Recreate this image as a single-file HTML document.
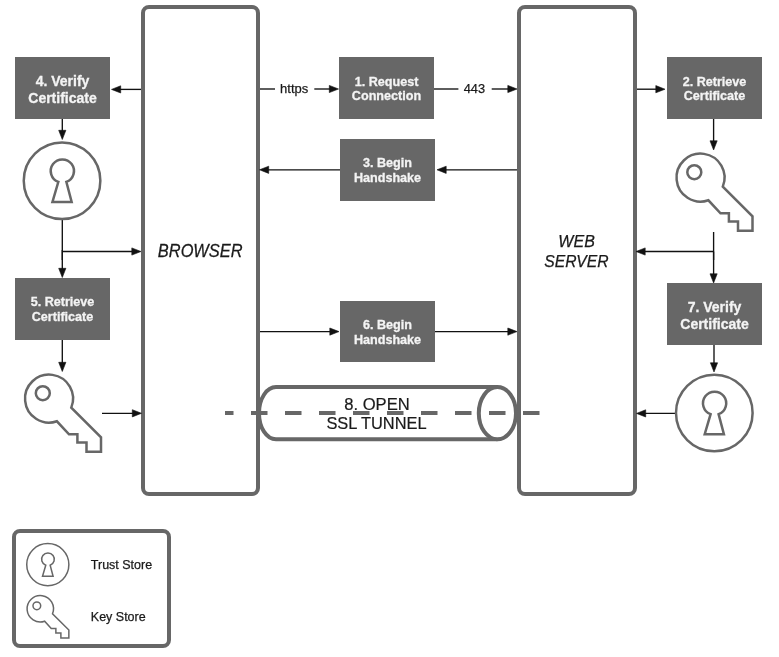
<!DOCTYPE html>
<html><head><meta charset="utf-8"><style>
html,body{margin:0;padding:0;background:#fff;}
body{width:779px;height:657px;overflow:hidden;}
svg{display:block;will-change:transform;}
text{font-family:"Liberation Sans",sans-serif;}
.bt{font-weight:bold;fill:#f4f4f4;stroke:#f4f4f4;stroke-width:0.3px;}
.rt{fill:#1a1a1a;stroke:#1a1a1a;stroke-width:0.25px;}
.tt{fill:#1a1a1a;stroke:#1a1a1a;stroke-width:0.2px;}
.it{font-style:italic;fill:#1a1a1a;stroke:#1a1a1a;stroke-width:0.25px;}
</style></head><body>
<svg width="779" height="657" viewBox="0 0 779 657">
<rect x="143.0" y="7.0" width="115" height="487" rx="6" fill="none" stroke="#676767" stroke-width="4"/>
<rect x="519.0" y="7.0" width="116" height="487" rx="6" fill="none" stroke="#676767" stroke-width="4"/>
<rect x="14.0" y="531.0" width="155" height="115" rx="6" fill="none" stroke="#676767" stroke-width="4"/>
<rect x="15" y="57" width="95" height="62" fill="#676767"/>
<text x="62.5" y="85.90" text-anchor="middle" class="bt" style="font-size:14px">4. Verify</text>
<text x="62.5" y="102.90" text-anchor="middle" class="bt" style="font-size:14px">Certificate</text>
<rect x="15" y="278" width="95" height="62" fill="#676767"/>
<text x="62.5" y="306.20" text-anchor="middle" class="bt" style="font-size:12.6px">5. Retrieve</text>
<text x="62.5" y="320.90" text-anchor="middle" class="bt" style="font-size:12.6px">Certificate</text>
<rect x="339" y="57" width="95" height="62" fill="#676767"/>
<text x="386.5" y="85.60" text-anchor="middle" class="bt" style="font-size:12.6px">1. Request</text>
<text x="386.5" y="100.20" text-anchor="middle" class="bt" style="font-size:12.6px">Connection</text>
<rect x="340" y="139" width="95" height="62" fill="#676767"/>
<text x="387.5" y="167.00" text-anchor="middle" class="bt" style="font-size:12.6px">3. Begin</text>
<text x="387.5" y="181.60" text-anchor="middle" class="bt" style="font-size:12.6px">Handshake</text>
<rect x="340" y="301" width="95" height="61" fill="#676767"/>
<text x="387.5" y="329.30" text-anchor="middle" class="bt" style="font-size:12.6px">6. Begin</text>
<text x="387.5" y="343.90" text-anchor="middle" class="bt" style="font-size:12.6px">Handshake</text>
<rect x="667" y="57" width="95" height="62" fill="#676767"/>
<text x="714.5" y="85.60" text-anchor="middle" class="bt" style="font-size:12.6px">2. Retrieve</text>
<text x="714.5" y="100.20" text-anchor="middle" class="bt" style="font-size:12.6px">Certificate</text>
<rect x="667" y="283" width="95" height="62" fill="#676767"/>
<text x="714.5" y="311.60" text-anchor="middle" class="bt" style="font-size:14px">7. Verify</text>
<text x="714.5" y="328.60" text-anchor="middle" class="bt" style="font-size:14px">Certificate</text>
<line x1="141" y1="89.4" x2="116.5" y2="89.4" stroke="#111" stroke-width="1.35"/>
<polygon points="111.50,89.40 120.70,85.80 120.70,93.00" fill="#111" stroke="#111" stroke-width="0.6" stroke-linejoin="round"/>
<line x1="62.3" y1="119" x2="62.3" y2="134.5" stroke="#111" stroke-width="1.35"/>
<polygon points="62.30,139.50 58.70,130.30 65.90,130.30" fill="#111" stroke="#111" stroke-width="0.6" stroke-linejoin="round"/>
<line x1="62.3" y1="220" x2="62.3" y2="260" stroke="#111" stroke-width="1.35"/>
<line x1="62.3" y1="250" x2="62.3" y2="272.5" stroke="#111" stroke-width="1.35"/>
<polygon points="62.30,277.50 58.70,268.30 65.90,268.30" fill="#111" stroke="#111" stroke-width="0.6" stroke-linejoin="round"/>
<line x1="62.3" y1="251.5" x2="136" y2="251.5" stroke="#111" stroke-width="1.35"/>
<polygon points="141.00,251.50 131.80,247.90 131.80,255.10" fill="#111" stroke="#111" stroke-width="0.6" stroke-linejoin="round"/>
<line x1="62.3" y1="340" x2="62.3" y2="366.5" stroke="#111" stroke-width="1.35"/>
<polygon points="62.30,371.50 58.70,362.30 65.90,362.30" fill="#111" stroke="#111" stroke-width="0.6" stroke-linejoin="round"/>
<line x1="102" y1="413.3" x2="136.5" y2="413.3" stroke="#111" stroke-width="1.35"/>
<polygon points="141.50,413.30 132.30,409.70 132.30,416.90" fill="#111" stroke="#111" stroke-width="0.6" stroke-linejoin="round"/>
<line x1="260" y1="89" x2="275" y2="89" stroke="#111" stroke-width="1.35"/>
<text x="294.2" y="92.6" text-anchor="middle" class="rt" style="font-size:13px">https</text>
<line x1="314.3" y1="89" x2="333.5" y2="89" stroke="#111" stroke-width="1.35"/>
<polygon points="338.50,89.00 329.30,85.40 329.30,92.60" fill="#111" stroke="#111" stroke-width="0.6" stroke-linejoin="round"/>
<line x1="434" y1="89" x2="458.4" y2="89" stroke="#111" stroke-width="1.35"/>
<text x="474.4" y="92.8" text-anchor="middle" class="rt" style="font-size:12.8px">443</text>
<line x1="491.7" y1="89" x2="512" y2="89" stroke="#111" stroke-width="1.35"/>
<polygon points="517.00,89.00 507.80,85.40 507.80,92.60" fill="#111" stroke="#111" stroke-width="0.6" stroke-linejoin="round"/>
<line x1="340" y1="169.8" x2="264.5" y2="169.8" stroke="#111" stroke-width="1.35"/>
<polygon points="259.50,169.80 268.70,166.20 268.70,173.40" fill="#111" stroke="#111" stroke-width="0.6" stroke-linejoin="round"/>
<line x1="517" y1="169.8" x2="442" y2="169.8" stroke="#111" stroke-width="1.35"/>
<polygon points="437.00,169.80 446.20,166.20 446.20,173.40" fill="#111" stroke="#111" stroke-width="0.6" stroke-linejoin="round"/>
<line x1="260" y1="331.6" x2="334" y2="331.6" stroke="#111" stroke-width="1.35"/>
<polygon points="339.00,331.60 329.80,328.00 329.80,335.20" fill="#111" stroke="#111" stroke-width="0.6" stroke-linejoin="round"/>
<line x1="435" y1="331.6" x2="512" y2="331.6" stroke="#111" stroke-width="1.35"/>
<polygon points="517.00,331.60 507.80,328.00 507.80,335.20" fill="#111" stroke="#111" stroke-width="0.6" stroke-linejoin="round"/>
<line x1="637" y1="89.2" x2="660" y2="89.2" stroke="#111" stroke-width="1.35"/>
<polygon points="665.00,89.20 655.80,85.60 655.80,92.80" fill="#111" stroke="#111" stroke-width="0.6" stroke-linejoin="round"/>
<line x1="713.6" y1="119" x2="713.6" y2="145" stroke="#111" stroke-width="1.35"/>
<polygon points="713.60,150.00 710.00,140.80 717.20,140.80" fill="#111" stroke="#111" stroke-width="0.6" stroke-linejoin="round"/>
<line x1="713.6" y1="232" x2="713.6" y2="260" stroke="#111" stroke-width="1.35"/>
<line x1="713.6" y1="251.5" x2="641" y2="251.5" stroke="#111" stroke-width="1.35"/>
<polygon points="636.00,251.50 645.20,247.90 645.20,255.10" fill="#111" stroke="#111" stroke-width="0.6" stroke-linejoin="round"/>
<line x1="713.6" y1="251.5" x2="713.6" y2="278" stroke="#111" stroke-width="1.35"/>
<polygon points="713.60,283.00 710.00,273.80 717.20,273.80" fill="#111" stroke="#111" stroke-width="0.6" stroke-linejoin="round"/>
<line x1="714" y1="345" x2="714" y2="367" stroke="#111" stroke-width="1.35"/>
<polygon points="714.00,372.00 710.40,362.80 717.60,362.80" fill="#111" stroke="#111" stroke-width="0.6" stroke-linejoin="round"/>
<line x1="675" y1="413.4" x2="641.5" y2="413.4" stroke="#111" stroke-width="1.35"/>
<polygon points="636.50,413.40 645.70,409.80 645.70,417.00" fill="#111" stroke="#111" stroke-width="0.6" stroke-linejoin="round"/>
<circle cx="62.05" cy="180.7" r="38.3" fill="none" stroke="#676767" stroke-width="2.5"/>
<path d="M58.35 181.89 A11.60 11.60 0 1 1 66.35 181.89 L71.65 201.90 L52.45 201.90 Z" fill="none" stroke="#676767" stroke-width="2.5" stroke-linejoin="miter"/>
<circle cx="714.3" cy="413" r="38.3" fill="none" stroke="#676767" stroke-width="2.5"/>
<path d="M710.60 414.19 A11.60 11.60 0 1 1 718.60 414.19 L723.90 434.20 L704.70 434.20 Z" fill="none" stroke="#676767" stroke-width="2.5" stroke-linejoin="miter"/>
<circle cx="47.8" cy="564.6" r="21.065" fill="none" stroke="#676767" stroke-width="1.5"/>
<path d="M45.76 565.25 A6.38 6.38 0 1 1 50.16 565.25 L53.08 576.26 L42.52 576.26 Z" fill="none" stroke="#676767" stroke-width="1.5" stroke-linejoin="miter"/>
<path d="M56.90 421.30 A24.00 24.00 0 1 1 71.30 407.60 L101.00 437.30 L101.00 451.80 L86.50 451.80 L86.50 442.60 L77.40 442.60 L77.40 434.30 L69.00 434.30 Z" fill="none" stroke="#676767" stroke-width="2.5" stroke-linejoin="miter"/>
<circle cx="42.80" cy="393.20" r="7.00" fill="none" stroke="#676767" stroke-width="2.5"/>
<path d="M708.40 200.30 A24.00 24.00 0 1 1 722.80 186.60 L752.50 216.30 L752.50 230.80 L738.00 230.80 L738.00 221.60 L728.90 221.60 L728.90 213.30 L720.50 213.30 Z" fill="none" stroke="#676767" stroke-width="2.5" stroke-linejoin="miter"/>
<circle cx="694.30" cy="172.20" r="7.00" fill="none" stroke="#676767" stroke-width="2.5"/>
<path d="M44.60 621.24 A13.20 13.20 0 1 1 52.52 613.71 L68.85 630.04 L68.85 638.02 L60.88 638.02 L60.88 632.96 L55.87 632.96 L55.87 628.39 L51.25 628.39 Z" fill="none" stroke="#676767" stroke-width="1.5" stroke-linejoin="miter"/>
<circle cx="36.84" cy="605.79" r="3.85" fill="none" stroke="#676767" stroke-width="1.5"/>
<path d="M497.4 387.1 L276 387.1 A17 26.1 0 0 0 276 439.3 L497.4 439.3" fill="none" stroke="#676767" stroke-width="4"/>
<ellipse cx="497.4" cy="413.2" rx="18.6" ry="26.1" fill="white" stroke="#676767" stroke-width="4"/>
<text x="377" y="409.7" text-anchor="middle" class="tt" style="font-size:16.6px">8. OPEN</text>
<text x="376.5" y="428.7" text-anchor="middle" class="tt" style="font-size:16.4px">SSL TUNNEL</text>
<line x1="225" y1="413.1" x2="540" y2="413.1" stroke="#676767" stroke-width="4" stroke-dasharray="16.5 17.5" stroke-dashoffset="8"/>
<text transform="translate(200.2 257.1) scale(1 1.07)" x="0" y="0" text-anchor="middle" class="it" style="font-size:16.4px">BROWSER</text>
<text x="576.6" y="246.9" text-anchor="middle" class="it" style="font-size:16px">WEB</text>
<text x="576.4" y="267.2" text-anchor="middle" class="it" style="font-size:15.7px">SERVER</text>
<text x="90.8" y="569.2" class="rt" style="font-size:12.5px">Trust Store</text>
<text x="90.8" y="621" class="rt" style="font-size:12.5px">Key Store</text>
</svg>
</body></html>
